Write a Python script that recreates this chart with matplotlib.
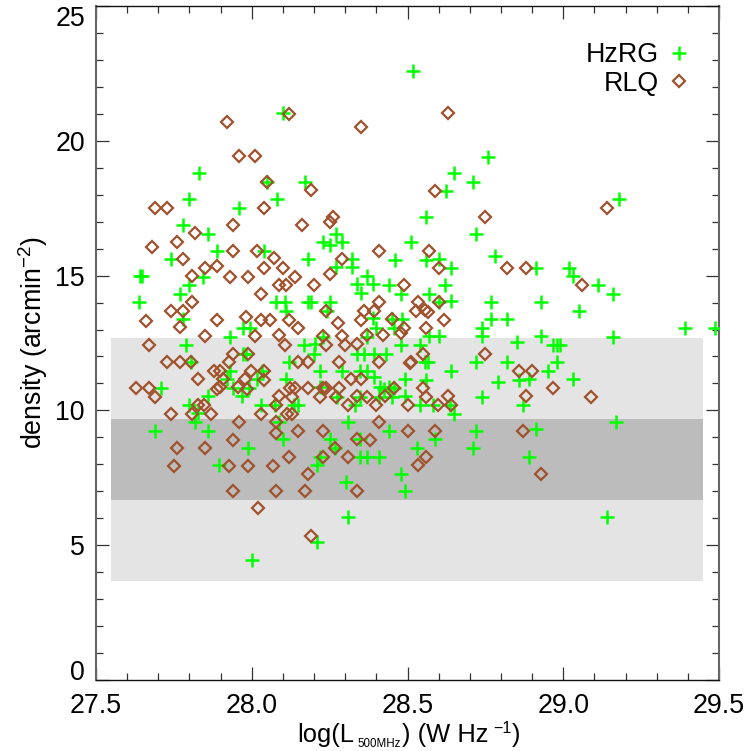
import matplotlib
matplotlib.use("Agg")
import matplotlib.pyplot as plt

plt.rcParams['font.family'] = ['Liberation Sans', 'DejaVu Sans']
plt.rcParams['mathtext.default'] = 'regular'

# log luminosity and density of the radio galaxies
hzrg_x = [28.519, 28.100, 27.830, 28.049, 28.170, 27.800, 28.080, 27.959, 27.780, 27.859, 28.270, 28.230, 28.250,
          28.291, 28.510, 27.890, 28.039, 27.740, 28.180, 28.460, 28.321, 28.321, 28.271, 27.845, 27.642, 27.647,
          28.369, 27.800, 28.339, 28.390, 28.440, 27.770, 28.350, 28.480, 27.639, 28.078, 28.108, 28.110, 28.179,
          28.190, 28.250, 28.240, 27.780, 28.390, 28.450, 28.482, 28.399, 28.457, 27.971, 27.993, 27.931, 28.228,
          28.369,
          28.760, 28.649, 28.709, 28.622, 28.559, 28.720, 28.780, 28.559, 28.600, 28.641, 28.911, 29.020, 29.030,
          28.621, 29.110, 28.570, 29.159, 28.600, 28.641, 28.769, 28.930, 29.051, 28.769, 28.820, 28.739, 29.390,
          29.488, 28.570, 28.600, 28.739, 28.930, 29.159, 29.180,
          27.789, 28.168, 28.204, 28.200, 27.971, 27.982, 28.337, 28.361, 28.391, 28.430, 27.806, 28.119, 28.220,
          28.290, 28.348, 28.369, 28.391, 27.931, 27.922, 28.032, 28.016, 28.110, 27.709, 27.939, 27.992, 28.220,
          28.412, 28.423, 28.440, 28.458, 27.858, 27.970, 28.273, 28.348, 28.407, 28.450, 27.797, 28.029, 28.075,
          28.147, 28.136, 28.332, 27.829, 27.819, 28.086, 28.310, 27.690, 27.859, 28.441, 28.100, 28.250, 28.348,
          27.989, 28.268, 27.896, 28.220, 28.348, 28.369, 28.410, 28.209, 28.301, 28.310, 28.209, 28.000,
          28.480, 28.540, 28.850, 28.968, 28.979, 28.990, 28.556, 28.566, 28.720, 28.820, 28.979, 28.640, 28.950,
          28.491, 28.559, 28.790, 28.859, 28.891, 29.030, 28.491, 28.739, 28.540, 28.581, 28.637, 28.870, 28.649,
          29.170, 28.720, 28.911, 28.589, 28.530, 28.709, 28.890, 28.480, 28.491, 29.140]
hzrg_y = [22.60, 21.03, 18.81, 18.48, 18.47, 17.85, 17.83, 17.51, 16.87, 16.55, 16.55, 16.24, 16.14,
          16.24, 16.25, 15.93, 15.93, 15.61, 15.61, 15.60, 15.61, 15.31, 15.31, 14.96, 14.99, 14.99,
          14.99, 14.65, 14.68, 14.68, 14.65, 14.33, 14.34, 14.32, 14.01, 14.01, 14.01, 13.69, 14.01,
          14.01, 14.01, 13.69, 13.38, 13.41, 13.38, 13.38, 13.04, 13.04, 13.04, 13.04, 12.73, 12.73,
          12.73,
          19.42, 18.80, 18.48, 18.14, 17.18, 16.55, 15.73, 15.60, 15.63, 15.30, 15.30, 15.30, 14.97,
          14.65, 14.65, 14.33, 14.32, 14.03, 14.07, 14.01, 14.01, 13.69, 13.38, 13.38, 13.04, 13.04,
          13.07, 12.76, 12.76, 12.76, 12.76, 12.73, 17.83,
          12.42, 12.44, 12.46, 12.11, 12.11, 12.11, 12.11, 12.11, 12.11, 12.11, 11.79, 11.78, 11.46,
          11.46, 11.47, 11.47, 11.25, 11.46, 11.15, 11.46, 11.15, 11.15, 10.83, 10.83, 10.83, 10.88,
          10.88, 10.81, 10.85, 10.83, 10.52, 10.52, 10.50, 10.50, 10.50, 10.50, 10.21, 10.20, 10.20,
          10.20, 10.20, 10.20, 9.89, 9.55, 9.58, 9.56, 9.23, 9.23, 9.23, 8.93, 8.93, 8.93,
          8.60, 8.60, 7.97, 8.28, 8.28, 8.28, 8.28, 7.97, 7.32, 6.05, 5.11, 4.46,
          12.42, 12.44, 12.52, 12.42, 12.42, 12.42, 11.78, 11.78, 11.78, 11.78, 11.78, 11.46, 11.46,
          11.15, 11.14, 11.07, 11.14, 11.15, 11.15, 10.53, 10.50, 10.20, 10.20, 10.20, 10.20, 9.87,
          9.58, 9.23, 9.29, 8.93, 8.61, 8.61, 8.28, 7.65, 6.99, 6.05]

# log luminosity and density of the quasars
rlq_x = [28.120, 27.920, 28.350, 27.959, 28.010, 28.049, 28.190, 27.688, 27.729, 28.040, 28.260, 28.250, 27.939,
         28.160, 27.819, 27.759, 27.680, 27.939, 28.018, 28.410, 27.780, 28.070, 28.290, 27.849, 27.890, 28.040,
         28.100, 27.809, 27.930, 27.989, 28.140, 28.250, 28.089, 28.110, 28.200, 28.490, 28.029, 27.809, 28.410,
         28.535, 27.740, 27.780, 28.239, 28.359, 28.391, 28.528, 27.661, 27.890, 27.980, 28.029, 28.059, 28.119,
         28.350, 28.450, 28.278, 27.770, 28.149, 28.490, 28.480, 27.849, 28.010, 28.089, 28.228, 28.290, 28.369,
         28.421,
         28.629, 28.588, 28.749, 28.569, 28.600, 28.820, 28.880, 29.059, 29.140, 28.600, 28.556, 28.567, 28.618,
         28.559,
         27.669, 28.108, 28.239, 28.299, 28.339, 27.729, 27.769, 27.806, 27.939, 27.988, 27.928, 28.150, 28.181,
         28.280, 28.410, 28.511, 27.879, 27.898, 27.999, 28.040, 27.829, 27.909, 27.979, 28.040, 28.318, 28.350,
         27.629, 27.669, 27.888, 27.898, 27.957, 28.123, 28.140, 28.179, 28.230, 28.239, 28.280, 28.457, 27.689,
         27.986, 28.089, 28.130, 28.220, 28.271, 28.339, 28.369, 28.428, 27.829, 27.848, 28.078, 28.310, 28.399,
         28.500, 27.740, 27.809, 27.868, 28.029, 28.113, 28.128, 27.959, 28.078, 28.410, 28.078, 28.150, 28.228,
         28.500, 27.939, 28.339, 28.380, 27.759, 27.849, 28.119, 28.228, 28.268, 28.310, 27.749, 27.928, 27.989,
         28.069, 28.535, 28.179, 27.939, 28.078, 28.170, 28.339, 28.019, 28.190,
         28.749, 28.508, 28.549, 28.859, 28.900, 28.549, 28.559, 28.629, 28.599, 28.640, 28.880, 28.968, 29.088,
         28.589, 28.870, 28.559, 28.929]
rlq_y = [20.99, 20.69, 20.53, 19.43, 19.44, 18.48, 18.17, 17.51, 17.51, 17.51, 17.19, 16.98, 16.87,
         16.87, 16.60, 16.24, 16.06, 15.93, 15.93, 15.93, 15.61, 15.64, 15.61, 15.30, 15.37, 15.30,
         15.27, 14.97, 14.96, 14.96, 14.96, 15.06, 14.65, 14.65, 14.65, 14.65, 14.33, 14.01, 14.01,
         14.01, 13.69, 13.69, 13.69, 13.69, 13.69, 13.69, 13.32, 13.37, 13.45, 13.37, 13.37, 13.37,
         13.37, 13.38, 13.23, 13.09, 13.04, 13.07, 12.86, 12.76, 12.76, 12.78, 12.76, 12.76, 12.78,
         12.78,
         21.03, 18.14, 17.17, 15.93, 15.27, 15.30, 15.30, 14.65, 17.51, 14.02, 13.72, 13.66, 13.37,
         13.07,
         12.42, 12.42, 12.42, 12.42, 12.46, 11.78, 11.78, 11.78, 12.10, 12.10, 11.78, 11.78, 11.78,
         11.78, 11.78, 11.78, 11.46, 11.46, 11.46, 11.46, 11.15, 11.15, 11.15, 11.12, 11.15, 11.15,
         10.83, 10.83, 10.81, 10.85, 10.85, 10.83, 10.83, 10.83, 10.83, 10.83, 10.83, 10.83, 10.50,
         10.81, 10.53, 10.50, 10.50, 10.50, 10.53, 10.50, 10.53, 10.20, 10.21, 10.20, 10.18, 10.18,
         10.18, 9.86, 9.86, 9.86, 9.86, 9.86, 9.86, 9.55, 9.58, 9.55, 9.17, 9.23, 9.23,
         9.23, 8.91, 8.93, 8.91, 8.60, 8.60, 8.28, 8.28, 8.60, 8.28, 7.95, 7.95, 7.95,
         7.95, 7.97, 7.65, 6.99, 6.99, 6.99, 6.99, 6.36, 5.34,
         12.10, 11.77, 12.10, 11.47, 11.46, 10.83, 10.50, 10.53, 10.18, 10.18, 10.53, 10.83, 10.50,
         9.23, 9.23, 8.28, 7.65]

# shaded density bands
band_x = [27.548, 29.45]
outer_band = [3.67, 12.68]
inner_band = [6.67, 9.69]

x_ticks = [27.5, 28.0, 28.5, 29.0, 29.5]
x_minor = [27.6, 27.7, 27.8, 27.9, 28.1, 28.2, 28.3, 28.4, 28.6, 28.7, 28.8, 28.9, 29.1, 29.2, 29.3, 29.4]
y_ticks = [0, 5, 10, 15, 20, 25]
y_minor = [1, 2, 3, 4, 6, 7, 8, 9, 11, 12, 13, 14, 16, 17, 18, 19, 21, 22, 23, 24]


def px_text(x, y, s, **kw):
    # place a text piece by its pixel position in the figure
    return fig.text(x / 747, 1 - y / 751, s, **kw)


fig = plt.figure(figsize=(7.47, 7.51), dpi=100)
ax = fig.add_axes([96 / 747, 1 - 679.6 / 751, 623 / 747, 673.2 / 751])

# bands go under the points
ax.fill_between(band_x, outer_band[0], outer_band[1], color='#e4e4e4', lw=0, zorder=1)
ax.fill_between(band_x, inner_band[0], inner_band[1], color='#bcbcbc', lw=0, zorder=1.1)

ax.plot(hzrg_x, hzrg_y, ls='none', marker='+', ms=9.8, mew=1.8, color='#00ff00', label='HzRG', zorder=3)
ax.plot(rlq_x, rlq_y, ls='none', marker='D', ms=6.5, mew=1.6, mfc='none', mec='#a0522d', label='RLQ', zorder=4)

ax.set_xlim(27.5, 29.5)
ax.set_ylim(0, 25)
ax.set_xticks(x_ticks)
ax.set_xticklabels(['%.1f' % v for v in x_ticks])
ax.set_xticks(x_minor, minor=True)
ax.set_yticks(y_ticks)
ax.set_yticks(y_minor, minor=True)

ax.tick_params(which='major', direction='in', top=True, right=True, length=9.4, width=0.9, color='#333333',
               labelsize=19.3)
ax.tick_params(which='minor', direction='in', top=True, right=True, length=4.7, width=0.9, color='#333333')
ax.tick_params(axis='x', which='major', pad=9.5)
ax.tick_params(axis='y', which='major', pad=8)

# end labels sit inside the axis range
labels = ax.get_yticklabels()
labels[0].set_va('baseline')
labels[-1].set_va('top')

for side in ['left', 'right']:
    ax.spines[side].set_linewidth(1.5)
    ax.spines[side].set_color('#666666')
for side in ['top', 'bottom']:
    ax.spines[side].set_linewidth(1.0)
    ax.spines[side].set_color('#111111')

# x label pieces: the subscript is much smaller than mathtext would make it
px_text(297, 742, 'log(L', fontsize=18.4, va='baseline')
px_text(357, 747, '500MHz', fontsize=8.3, va='baseline')
px_text(402, 742, ') (W Hz', fontsize=18.4, va='baseline')
px_text(493, 733, '\u22121', fontsize=11.5, va='baseline')
px_text(512, 742, ')', fontsize=18.4, va='baseline')

px_text(33, 343, 'density (arcmin$^{-2}$)', fontsize=19.3, rotation=90, ha='center', va='center')

ax.legend(loc='upper right', bbox_to_anchor=(596 / 623, 1 - 36 / 673), frameon=False, markerfirst=False,
          fontsize=19.3, handlelength=1.0, handletextpad=0.25, labelspacing=0.08, borderaxespad=0, borderpad=0,
          numpoints=1)

fig.savefig('out.png', dpi=100)
